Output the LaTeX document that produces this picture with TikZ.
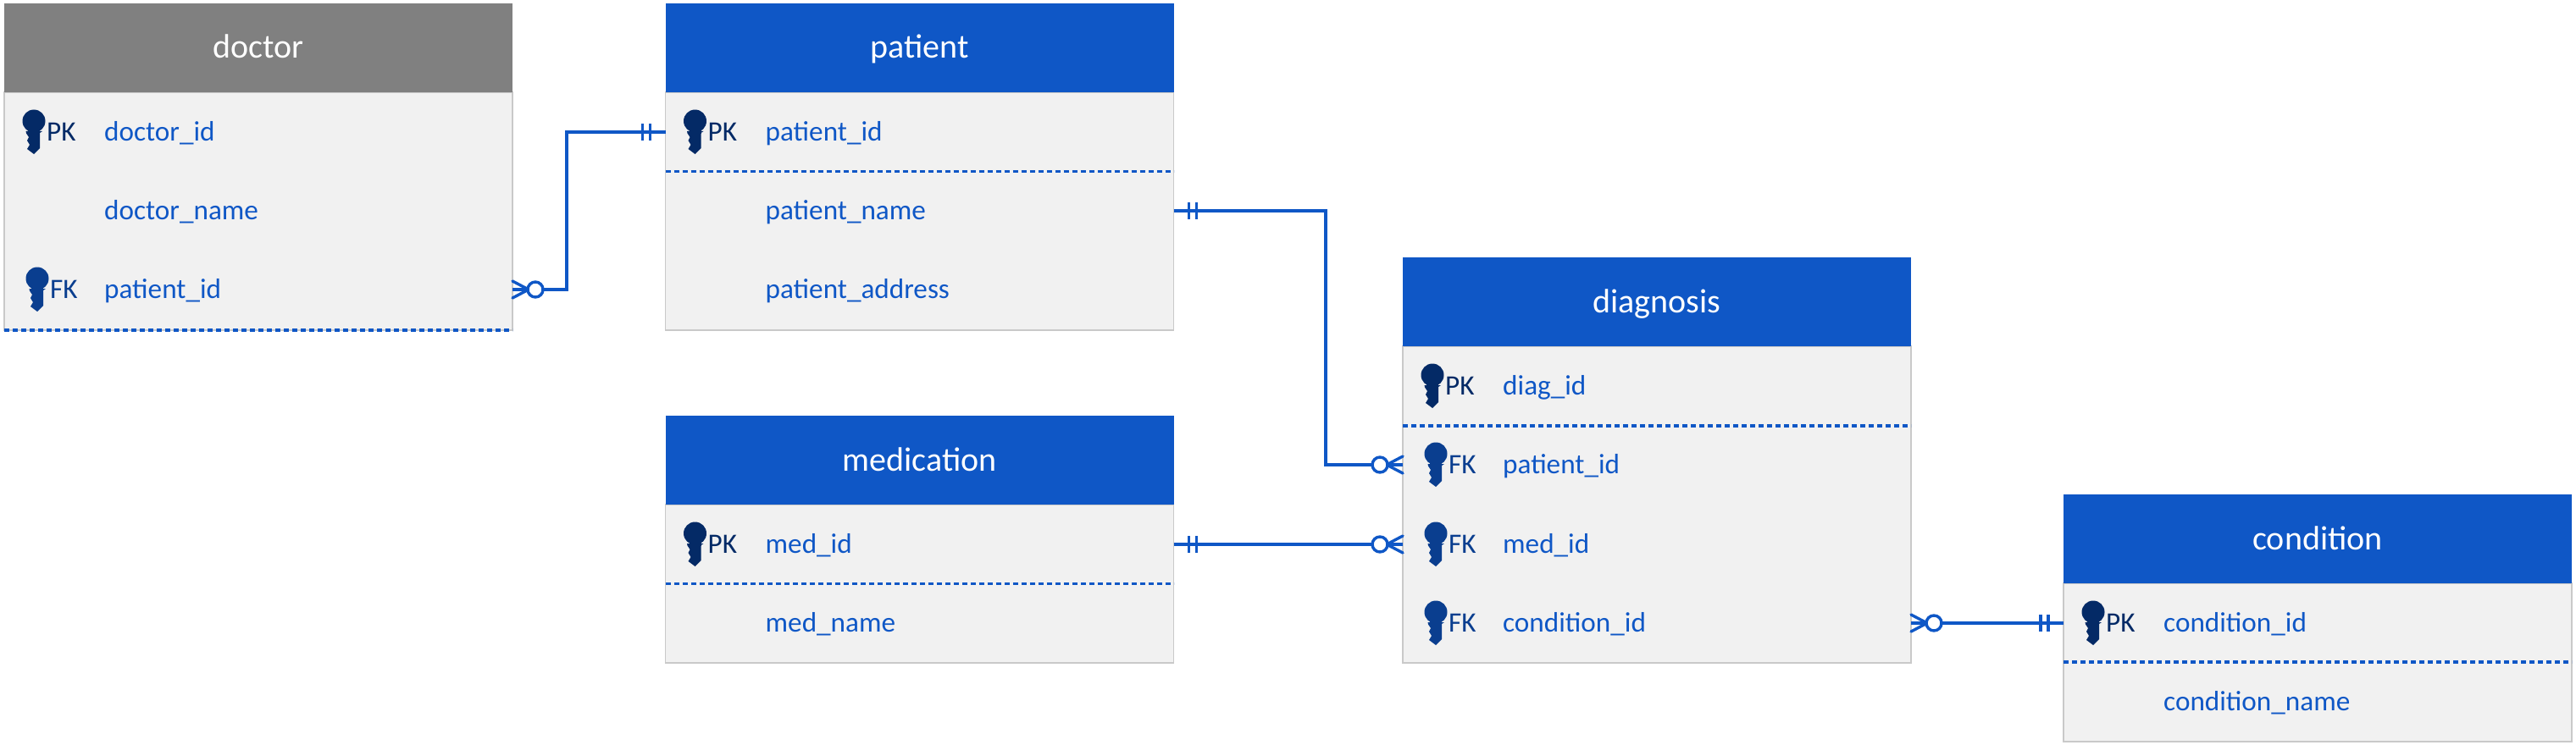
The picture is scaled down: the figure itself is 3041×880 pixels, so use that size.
\documentclass[tikz,border=0pt]{standalone}
\usepackage{fontspec}
\setmainfont{Carlito}
\definecolor{erblue}{HTML}{0F57C6}
\definecolor{ergray}{HTML}{808080}
\definecolor{erbody}{HTML}{F1F1F1}
\definecolor{eredge}{HTML}{C9C9C9}
\definecolor{pkcol}{HTML}{042A66}
\definecolor{fkcol}{HTML}{0A3E8F}
\tikzset{
  bodybox/.style={draw=eredge,fill=erbody,line width=1.5pt,minimum width=600pt,inner sep=0pt,outer sep=0pt},
  headbox/.style={fill=#1,minimum width=600pt,inner sep=0pt,outer sep=0pt},
  titletext/.style={text=white,font=\fontsize{40}{40}\selectfont,anchor=base,inner sep=0pt},
  fieldtext/.style={text=erblue,font=\fontsize{33.2}{33.2}\selectfont,anchor=base west,inner sep=0pt},
  keytext/.style={font=\fontsize{33.2}{33.2}\selectfont,anchor=base west,inner sep=0pt},
  rowbox/.style={minimum width=600pt,minimum height=93pt,inner sep=0pt,outer sep=0pt},
  rowsep/.style={draw=erblue,line width=3.6pt,dash pattern=on 6pt off 4pt},
  conn/.style={draw=erblue,line width=3.4pt,line join=miter},
  crowzero/.pic={
    \draw[conn] (0,0) -- (19,0);
    \draw[conn,line cap=round] (0,-10) -- (19,0) -- (0,10);
    \draw[conn,fill=white] (27,0) circle[radius=9];
  },
  onlyone/.pic={
    \draw[conn] (18,-10) -- (18,10) (27,-10) -- (27,10);
  },
  keypic/.pic={
    \fill (0,-13) circle[radius=13.5];
    \fill (-9.5,-1) -- (10,-1) -- (7,1) -- (7,19) -- (0,26) -- (-8,20) -- (-5,15)
      -- (-8,10) -- (-6,6) -- (-9,1.5) -- cycle;
    \fill (-7,-5) rectangle (7,2);
  }
}
% name, left x, top y, header bottom y, bottom y, header colour, title
\newcommand{\ertable}[7]{
  \node[bodybox,anchor=north west,minimum height=#5pt-#4pt] (#1-body) at (#2,#4) {};
  \node[headbox=#6,anchor=north west,minimum height=#4pt-#3pt] (#1-head) at (#2,#3) {};
  \node[titletext] (#1-title) at (#2+300,#4-40) {#7};
}
% table, row id, left x, row y, field text
\newcommand{\errow}[5]{
  \node[rowbox] (#1-#2) at (#3+300,#4) {};
  \node[fieldtext] (#1-#2-text) at (#3+118,#4+10) {#5};
}
\newcommand{\erpk}[3]{
  \pic[pkcol] at (#2+35,#3) {keypic};
  \node[keytext,text=pkcol] (#1-pk) at (#2+50,#3+10) {PK};
}
% table, row id, left x, row y
\newcommand{\erfk}[4]{
  \pic[fkcol] at (#3+39,#4) {keypic};
  \node[keytext,text=fkcol] (#1-#2-fk) at (#3+54,#4+10) {FK};
}
\begin{document}
\begin{tikzpicture}[x=1pt,y=-1pt]
\useasboundingbox (0,0) rectangle (3041,880);
\fill[white] (0,0) rectangle (3041,880);

% doctor
\ertable{doc}{5}{4}{109}{390}{ergray}{doctor}
\errow{doc}{a}{5}{156}{doctor\_id}
\errow{doc}{b}{5}{249}{doctor\_name}
\errow{doc}{c}{5}{342}{patient\_id}
\erpk{doc}{5}{156}
\erfk{doc}{c}{5}{342}
\draw[rowsep] (doc-body.south west) -- (doc-body.south east);

% patient
\ertable{pat}{785.5}{4}{109}{390}{erblue}{patient}
\errow{pat}{a}{785.5}{156}{patient\_id}
\errow{pat}{b}{785.5}{249}{patient\_name}
\errow{pat}{c}{785.5}{342}{patient\_address}
\erpk{pat}{785.5}{156}
\draw[rowsep] (pat-body.west |- 0,202.5) -- (pat-body.east |- 0,202.5);

% medication
\ertable{med}{785.5}{491}{596}{783}{erblue}{medication}
\errow{med}{a}{785.5}{643}{med\_id}
\errow{med}{b}{785.5}{736}{med\_name}
\erpk{med}{785.5}{643}
\draw[rowsep] (med-body.west |- 0,689.5) -- (med-body.east |- 0,689.5);

% diagnosis
\ertable{dia}{1656}{304}{409}{783}{erblue}{diagnosis}
\errow{dia}{a}{1656}{456}{diag\_id}
\errow{dia}{b}{1656}{549}{patient\_id}
\errow{dia}{c}{1656}{643}{med\_id}
\errow{dia}{d}{1656}{736}{condition\_id}
\erpk{dia}{1656}{456}
\erfk{dia}{b}{1656}{549}
\erfk{dia}{c}{1656}{643}
\erfk{dia}{d}{1656}{736}
\draw[rowsep] (dia-body.west |- 0,503) -- (dia-body.east |- 0,503);

% condition
\ertable{con}{2436}{584}{689}{876}{erblue}{condition}
\errow{con}{a}{2436}{736}{condition\_id}
\errow{con}{b}{2436}{829}{condition\_name}
\erpk{con}{2436}{736}
\draw[rowsep] (con-body.west |- 0,782) -- (con-body.east |- 0,782);

% connectors
\coordinate (bend1) at (669,249);
\coordinate (bend2) at (1565,400);
\draw[conn] (doc-c.east) -| (bend1) |- (pat-a.west);
\draw[conn] (pat-b.east) -| (bend2) |- (dia-b.west);
\draw[conn] (med-a.east) -- (dia-c.west);
\draw[conn] (dia-d.east) -- (con-a.west);

\pic at (doc-c.east) {crowzero};
\pic[xscale=-1] at (pat-a.west) {onlyone};
\pic at (pat-b.east) {onlyone};
\pic[xscale=-1] at (dia-b.west) {crowzero};
\pic at (med-a.east) {onlyone};
\pic[xscale=-1] at (dia-c.west) {crowzero};
\pic at (dia-d.east) {crowzero};
\pic[xscale=-1] at (con-a.west) {onlyone};
\end{tikzpicture}
\end{document}
